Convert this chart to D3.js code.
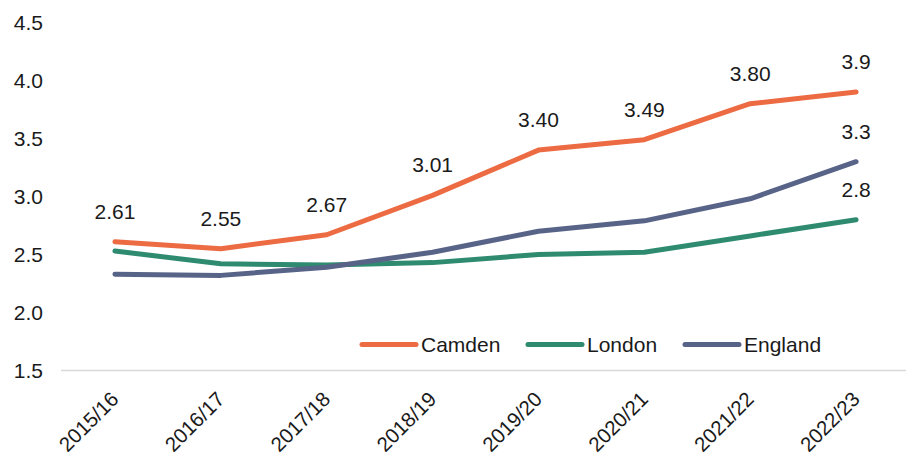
<!DOCTYPE html>
<html>
<head>
<meta charset="utf-8">
<script src="https://cdn.jsdelivr.net/npm/d3@7"></script>
<style>
  html, body { margin: 0; padding: 0; background: #fff; }
  svg { display: block; font-family: "Liberation Sans", Arial, sans-serif; }
</style>
</head>
<body>
<svg id="chart" width="906" height="455"></svg>
<script>
// Financial years on the x axis
const years = ["2015/16", "2016/17", "2017/18", "2018/19", "2019/20", "2020/21", "2021/22", "2022/23"];

// Series values
const camden  = [2.61, 2.55, 2.67, 3.01, 3.40, 3.49, 3.80, 3.9];
const london  = [2.53, 2.42, 2.41, 2.43, 2.50, 2.52, 2.66, 2.8];
const england = [2.33, 2.32, 2.39, 2.52, 2.70, 2.79, 2.98, 3.3];

// Printed value labels (Camden every year, the others on the last year only)
const camdenLabels  = ["2.61", "2.55", "2.67", "3.01", "3.40", "3.49", "3.80", "3.9"];
const londonLabels  = [null, null, null, null, null, null, null, "2.8"];
const englandLabels = [null, null, null, null, null, null, null, "3.3"];

// Y axis ticks
const yTicks = [1.5, 2.0, 2.5, 3.0, 3.5, 4.0, 4.5];

const seriesNames = ["Camden", "London", "England"];
const seriesColors = ["#EC6B42", "#2E8B70", "#586388"];

const series = [
  { name: seriesNames[0], values: camden,  labels: camdenLabels,  color: seriesColors[0] },
  { name: seriesNames[1], values: london,  labels: londonLabels,  color: seriesColors[1] },
  { name: seriesNames[2], values: england, labels: englandLabels, color: seriesColors[2] }
];

const svg = d3.select("#chart");
const fontSize = 21;
const textColor = "#1a1a1a";

const x = d3.scaleBand().domain(years).range([62, 909]);
const cx = d => x(d) + x.bandwidth() / 2;
const y = d3.scaleLinear().domain([1.5, 4.5]).range([370.5, 22.5]);

// Baseline
svg.append("line")
  .attr("x1", 61).attr("x2", 906)
  .attr("y1", y(1.5)).attr("y2", y(1.5))
  .attr("stroke", "#D9D9D9").attr("stroke-width", 1.5);

// Y axis labels
const yAxis = d3.axisLeft(y).tickValues(yTicks).tickFormat(d3.format(".1f")).tickSize(0).tickPadding(0);
const yg = svg.append("g").attr("transform", "translate(43,0)").call(yAxis);
yg.select(".domain").remove();
yg.selectAll("text")
  .attr("font-size", fontSize).attr("font-family", "Liberation Sans, Arial, sans-serif")
  .attr("fill", textColor).attr("dy", "0.35em");

// X axis labels, rotated
const xAxis = d3.axisBottom(x).tickSize(0).tickPadding(0);
const xg = svg.append("g").attr("transform", `translate(0,${y(1.5)})`).call(xAxis);
xg.select(".domain").remove();
xg.selectAll(".tick text")
  .attr("font-size", 20.5).attr("font-family", "Liberation Sans, Arial, sans-serif")
  .attr("fill", textColor)
  .attr("text-anchor", "end")
  .attr("dy", 0)
  .attr("transform", "translate(5,30) rotate(-45)");

// Lines
const line = d3.line()
  .x((d, i) => cx(years[i]))
  .y(d => y(d));

series.forEach(s => {
  svg.append("path")
    .datum(s.values)
    .attr("d", line)
    .attr("fill", "none")
    .attr("stroke", s.color)
    .attr("stroke-width", 5)
    .attr("stroke-linecap", "round")
    .attr("stroke-linejoin", "round");
});

// Value labels above points
series.forEach(s => {
  svg.append("g").selectAll("text")
    .data(s.values.map((v, i) => ({ v, i, label: s.labels[i] })).filter(d => d.label !== null))
    .join("text")
    .attr("x", d => cx(years[d.i]))
    .attr("y", d => y(d.v) - 23)
    .attr("text-anchor", "middle")
    .attr("font-size", fontSize)
    .attr("fill", textColor)
    .text(d => d.label);
});

// Legend
const legendItems = [
  { x: 362, s: series[0] },
  { x: 528, s: series[1] },
  { x: 685, s: series[2] }
];
const lg = svg.append("g");
legendItems.forEach(it => {
  lg.append("line")
    .attr("x1", it.x).attr("x2", it.x + 54)
    .attr("y1", 344.5).attr("y2", 344.5)
    .attr("stroke", it.s.color).attr("stroke-width", 5).attr("stroke-linecap", "round");
  lg.append("text")
    .attr("x", it.x + 59).attr("y", 344.5).attr("dy", "0.35em")
    .attr("font-size", fontSize).attr("fill", textColor)
    .text(it.s.name);
});
</script>
</body>
</html>
